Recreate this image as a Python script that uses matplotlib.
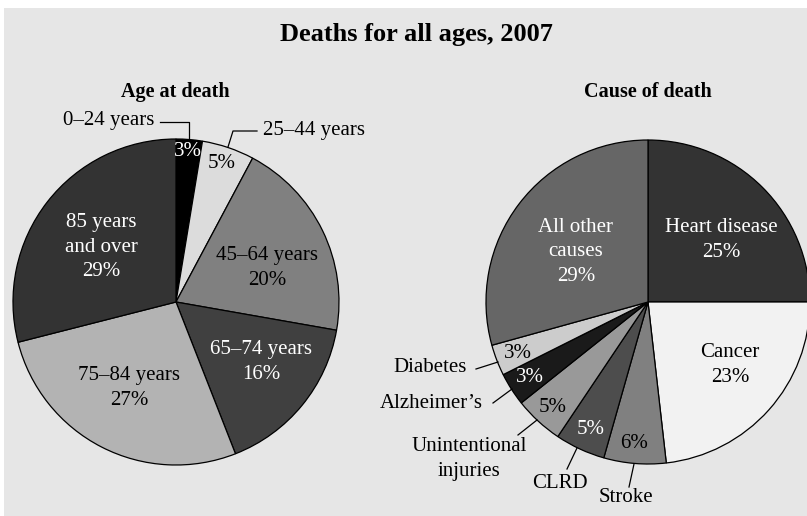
import matplotlib
matplotlib.use('Agg')
import matplotlib.pyplot as plt
from matplotlib.patches import Rectangle

# ==============================================
# Deaths for all ages, 2007 - two pie charts
# ==============================================

W, H = 807, 516

# --- data (shares) ---
age_groups = ['0–24 years', '25–44 years', '45–64 years', '65–74 years',
              '75–84 years', '85 years\nand over']
age_share = [2.6, 5.2, 20.0, 16.3, 27.0, 29.0]
age_colors = ['#000000', '#dcdcdc', '#808080', '#404040', '#b3b3b3', '#333333']

causes = ['Heart disease', 'Cancer', 'Stroke', 'CLRD', 'Unintentional\ninjuries',
          'Alzheimer’s', 'Diabetes', 'All other\ncauses']
cause_share = [25.0, 23.2, 6.2, 5.0, 4.9, 3.3, 3.1, 29.3]
cause_colors = ['#333333', '#f2f2f2', '#808080', '#4d4d4d', '#999999',
                '#1a1a1a', '#cccccc', '#666666']

plt.rcParams['font.family'] = ['Liberation Serif', 'DejaVu Serif']


def py(y):
    """pixel y (from top) -> data y"""
    return H - y


def pct(v):
    return f"{round(v)}%"


fig = plt.figure(figsize=(W / 100, H / 100), dpi=100)
fig.patch.set_facecolor('white')
ax = fig.add_axes([0, 0, 1, 1])

# gray panel
ax.add_patch(Rectangle((4, 0), W - 4, H - 8, facecolor='#e6e6e6',
                       edgecolor='none', zorder=0))

wprops = dict(edgecolor='black', linewidth=0.9)
ax.pie(age_share, colors=age_colors, startangle=90, counterclock=False,
       center=(176, py(302)), radius=163, wedgeprops=wprops, frame=True)
ax.pie(cause_share, colors=cause_colors, startangle=90, counterclock=False,
       center=(648, py(302)), radius=162, wedgeprops=wprops, frame=True)

ax.set_xlim(0, W)
ax.set_ylim(0, H)
ax.set_aspect('equal')
ax.axis('off')

fs = 15
ls = 1.4

# titles
ax.text(416, py(34), 'Deaths for all ages, 2007', ha='center', va='center',
        fontsize=19, fontweight='bold')
ax.text(175, py(92), 'Age at death', ha='center', va='center',
        fontsize=14.5, fontweight='bold')
ax.text(648, py(92), 'Cause of death', ha='center', va='center',
        fontsize=14.5, fontweight='bold')

# --- left pie labels ---
# (x, y, text color, show name inside)
age_inside = [(188, 151, 'white', False), (222, 164, 'black', False),
              (267, 268, 'black', True), (261, 362, 'white', True),
              (129, 388, 'black', True), (101, 247, 'white', True)]
for name, v, (x, y, c, named) in zip(age_groups, age_share, age_inside):
    txt = f"{name}\n{pct(v)}" if named else pct(v)
    ax.text(x, py(y), txt, ha='center', va='center', color=c, fontsize=fs,
            linespacing=ls)

ax.text(154, py(120), age_groups[0], ha='right', va='center', fontsize=fs)
ax.plot([160, 189, 189], [py(122), py(122), py(140)], color='black', lw=0.9)
ax.text(263, py(131), age_groups[1], ha='left', va='center', fontsize=fs)
ax.plot([228, 233, 257], [py(147), py(131), py(131)], color='black', lw=0.9)

# --- right pie labels ---
cause_inside = [(721, 240, 'white', True), (730, 365, 'black', True),
                (634, 443, 'black', False), (591, 429, 'white', False),
                (553, 407, 'black', False), (530, 377, 'white', False),
                (518, 353, 'black', False), (576, 252, 'white', True)]
for name, v, (x, y, c, named) in zip(causes, cause_share, cause_inside):
    txt = f"{name}\n{pct(v)}" if named else pct(v)
    ax.text(x, py(y), txt, ha='center', va='center', color=c, fontsize=fs,
            linespacing=ls)

# outside names with leader lines: (text x, text y, ha, line)
cause_outside = {
    'Stroke': (626, 498, 'center', [(629, 487), (634, 464)]),
    'CLRD': (560, 484, 'center', [(567, 469), (577, 448)]),
    'Unintentional\ninjuries': (469, 459, 'center', [(518, 435), (537, 420)]),
    'Alzheimer’s': (483, 404, 'right', [(493, 403), (512, 389)]),
    'Diabetes': (467, 367, 'right', [(476, 369), (498, 362)]),
}
for name, (x, y, ha, line) in cause_outside.items():
    ax.text(x, py(y), name, ha=ha, va='center', fontsize=fs, linespacing=ls)
    ax.plot([p[0] for p in line], [py(p[1]) for p in line],
            color='black', lw=0.9)

fig.savefig('out.png', dpi=100)
